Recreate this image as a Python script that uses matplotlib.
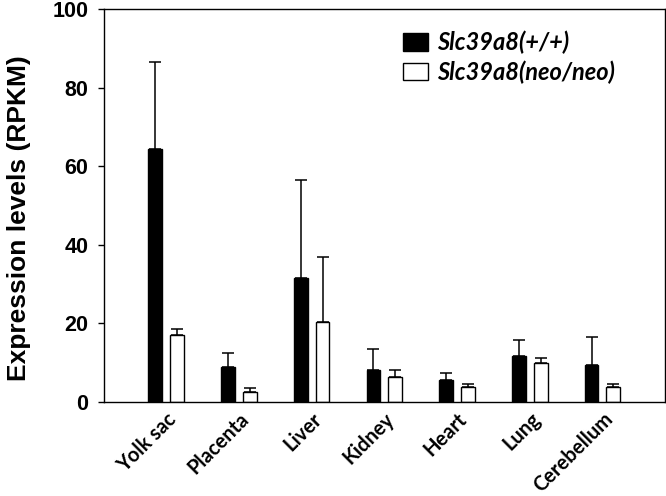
import numpy as np
import matplotlib
matplotlib.use('Agg')
import matplotlib.pyplot as plt

tissues = ['Yolk sac', 'Placenta', 'Liver', 'Kidney', 'Heart', 'Lung', 'Cerebellum']
wt_mean = [64.3, 8.8, 31.6, 8.1, 5.6, 11.7, 9.5]
wt_err = [22.1, 3.7, 25.0, 5.4, 1.9, 4.2, 7.1]
neo_mean = [17.0, 2.5, 20.4, 6.4, 3.9, 9.8, 3.8]
neo_err = [1.6, 1.0, 16.6, 1.8, 0.6, 1.5, 0.7]
labels = ['Slc39a8(+/+)', 'Slc39a8(neo/neo)']
yticks = [0, 20, 40, 60, 80, 100]

fig = plt.figure(figsize=(6.66, 4.96), dpi=100)
ax = fig.add_axes([104 / 666, 1 - 402 / 496, 561 / 666, 393 / 496])

x = np.arange(len(tissues))
w = 0.19
off = 0.15

ax.bar(x - off, wt_mean, w, color='black', edgecolor='black', linewidth=1, label=labels[0], zorder=2)
ax.bar(x + off, neo_mean, w, color='white', edgecolor='black', linewidth=1, label=labels[1], zorder=2)
ax.errorbar(x - off, wt_mean, yerr=[np.zeros(len(x)), wt_err], fmt='none', ecolor='black',
            elinewidth=1.1, capsize=4.3, capthick=1.1, zorder=1)
ax.errorbar(x + off, neo_mean, yerr=[np.zeros(len(x)), neo_err], fmt='none', ecolor='black',
            elinewidth=1.1, capsize=4.3, capthick=1.1, zorder=1)

ax.set_xlim(-0.856, 6.86)
ax.set_ylim(0, 100)
ax.set_yticks(yticks)
ax.set_yticklabels([str(t) for t in yticks], fontfamily='Liberation Sans', fontweight='bold', fontsize=15.5)
ax.tick_params(axis='y', direction='out', length=4.3, width=1, pad=7)
ax.set_xticks(x)
ax.set_xticklabels(tissues, rotation=45, ha='right', va='top', rotation_mode='anchor',
                   fontfamily='Lato', fontweight='bold', fontsize=14.5)
ax.tick_params(axis='x', length=0, pad=5)
for s in ax.spines.values():
    s.set_linewidth(1)
    s.set_color('black')

ax.set_ylabel('Expression levels (RPKM)', fontfamily='Liberation Sans', fontweight='bold', fontsize=19)
ax.yaxis.set_label_coords(-0.13, 0.468)

leg = ax.legend(loc='upper left', bbox_to_anchor=(403 / 666, 1 - 31 / 496), bbox_transform=fig.transFigure,
                frameon=False, borderpad=0, borderaxespad=0, handlelength=1.06, handleheight=0.77,
                handletextpad=0.38, labelspacing=0.25,
                prop={'family': 'Lato', 'weight': 'bold', 'style': 'italic', 'size': 17})

fig.savefig('out.png', dpi=100)
